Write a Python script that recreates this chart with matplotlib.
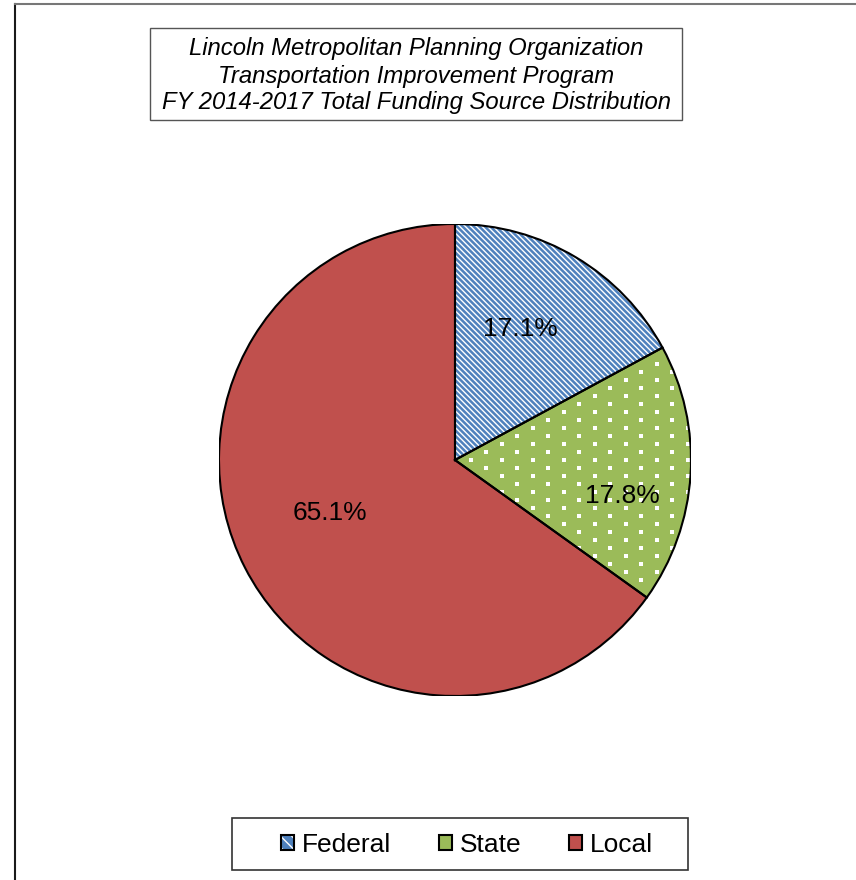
import numpy as np
import matplotlib
matplotlib.use("Agg")
import matplotlib.pyplot as plt
from matplotlib.patches import Wedge, Rectangle, Patch
from matplotlib.lines import Line2D
from matplotlib.legend_handler import HandlerTuple

plt.rcParams['font.family'] = ['Liberation Sans', 'DejaVu Sans']
plt.rcParams['hatch.linewidth'] = 1.0

# data
sources = ["Federal", "State", "Local"]
shares = [17.1, 17.8, 65.1]
colors = ["#4F81BD", "#9BBB59", "#C0504D"]
title_lines = ["Lincoln Metropolitan Planning Organization",
               "Transportation Improvement Program",
               "FY 2014-2017 Total Funding Source Distribution"]

W, H = 856, 880
fig = plt.figure(figsize=(W / 100, H / 100), dpi=100)

def fx(px):
    return px / W

def fy(py):
    return 1 - py / H

# outer frame (cut off at right and bottom)
fig.add_artist(Line2D([fx(15), fx(15)], [fy(4.5), -0.1], color="#1a1a1a", lw=1.5))
fig.add_artist(Line2D([fx(15), 1.1], [fy(4.5), fy(4.5)], color="#777777", lw=1.5))

# title box
fig.add_artist(Rectangle((fx(150), fy(120)), fx(682) - fx(150), fy(28) - fy(120),
                         fill=False, edgecolor="#555555", lw=1.0))
for i, line in enumerate(title_lines):
    fig.text(fx(416), fy(55.5 + 27 * i), line, ha="center", va="baseline",
             fontsize=17.2, style="italic")

# pie
cx, cy, r = 455, 460, 236
ax = fig.add_axes([fx(cx - r), fy(cy + r), 2 * r / W, 2 * r / H])

wedges, _ = ax.pie(shares, colors=colors, startangle=90, counterclock=False,
                   radius=1, wedgeprops=dict(linewidth=0))
ax.set_xlim(-1, 1)
ax.set_ylim(-1, 1)
ax.axis("off")

# federal: white diagonal stripes
w0 = wedges[0]
ax.add_patch(Wedge((0, 0), 1, w0.theta1, w0.theta2, facecolor="none",
                   edgecolor="white", lw=0, hatch="\\\\\\\\\\\\", zorder=3))

# state: white dotted texture
dx, dy = 31 / r, 8 / r
rows = np.arange(-1.05, 1.05, dy)
gx, gy = [], []
for j, yy in enumerate(rows):
    xs = np.arange(-1.05, 1.05, dx) + (dx / 2 if j % 2 else 0)
    gx.extend(xs)
    gy.extend([yy] * len(xs))
dots = ax.scatter(gx, gy, s=9, marker="s", color="white", lw=0, zorder=3)
dots.set_clip_path(wedges[1])

# outlines
for w in wedges:
    ax.add_patch(Wedge((0, 0), 1, w.theta1, w.theta2, facecolor="none",
                       edgecolor="black", lw=1.5, zorder=4))

# percentage labels
label_r = [0.62, 0.724, 0.575]
label_shift = [4.4, -8.6, -4.2]
for w, v, lr, sh in zip(wedges, shares, label_r, label_shift):
    ang = np.deg2rad((w.theta1 + w.theta2) / 2 + sh)
    ax.text(lr * np.cos(ang), lr * np.sin(ang), f"{v:.1f}%", ha="center",
            va="center", fontsize=19, zorder=5)

# legend box
fig.add_artist(Rectangle((fx(232), fy(870)), fx(688) - fx(232), fy(818) - fy(870),
                         fill=False, edgecolor="#333333", lw=1.2))
handles = [
    (Patch(facecolor=colors[0], edgecolor="white", lw=0, hatch="\\\\\\"),
     Patch(facecolor="none", edgecolor="black", lw=1.5)),
    Patch(facecolor=colors[1], edgecolor="black", lw=1.5),
    Patch(facecolor=colors[2], edgecolor="black", lw=1.5),
]
fig.legend(handles, sources, loc="center", bbox_to_anchor=(fx(467), fy(845)),
           ncol=3, frameon=False, fontsize=19, handlelength=0.5,
           handleheight=0.5, handletextpad=0.3, columnspacing=1.8,
           handler_map={tuple: HandlerTuple(ndivide=1, pad=0)})

fig.savefig("out.png", dpi=100)
